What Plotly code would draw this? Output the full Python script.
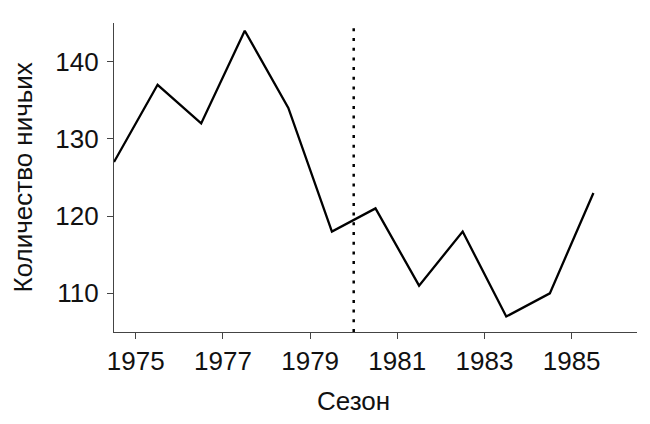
import plotly.graph_objects as go

seasons = [1974.5, 1975.5, 1976.5, 1977.5, 1978.5, 1979.5, 1980.5, 1981.5, 1982.5, 1983.5, 1984.5, 1985.5]
draws = [127, 137, 132, 144, 134, 118, 121, 111, 118, 107, 110, 123]
rule_change = 1980
x_ticks = [1975, 1977, 1979, 1981, 1983, 1985]
y_ticks = [110, 120, 130, 140]

FONT = "Liberation Sans, Arial, Helvetica, sans-serif"
FS = 26

fig = go.Figure()
fig.add_trace(go.Scatter(x=seasons, y=draws, mode="lines",
                         line=dict(color="black", width=2.3), hoverinfo="x+y"))
fig.add_shape(type="line", xref="x", yref="paper", x0=rule_change, x1=rule_change,
              y0=0, y1=1, line=dict(color="black", width=2.5, dash="3px,6.7px"))

fig.update_layout(
    width=650, height=424,
    margin=dict(l=114, r=13, t=23, b=92, autoexpand=False),
    paper_bgcolor="white", plot_bgcolor="white",
    showlegend=False,
    font=dict(family=FONT, size=FS, color="#111"),
    xaxis=dict(range=[1974.5, 1986.5], tickvals=x_ticks, ticktext=[str(v) for v in x_ticks],
               showgrid=False, zeroline=False, showline=True, linecolor="#444", linewidth=1.3,
               ticks="outside", ticklen=6, tickcolor="#444", tickwidth=1.3,
               tickfont=dict(size=FS), automargin=False),
    yaxis=dict(range=[105, 145], tickvals=y_ticks, showgrid=False, zeroline=False,
               showline=True, linecolor="#444", linewidth=1.3,
               ticks="outside", ticklen=6, tickcolor="#444", tickwidth=1.3,
               tickfont=dict(size=FS), automargin=False, ticklabelstandoff=3),
    annotations=[
        dict(text="Сезон", xref="paper", yref="paper", x=0.457, y=-0.223,
             xanchor="center", yanchor="middle", showarrow=False, font=dict(size=FS)),
        dict(text="Количество ничьих", xref="paper", yref="paper", x=-0.174, y=0.5,
             xanchor="center", yanchor="middle", textangle=-90, showarrow=False,
             font=dict(size=FS)),
    ],
)

fig.write_html("out.html", config={"displayModeBar": False},
               post_script="document.body.style.margin='0';document.body.style.overflow='hidden';")
